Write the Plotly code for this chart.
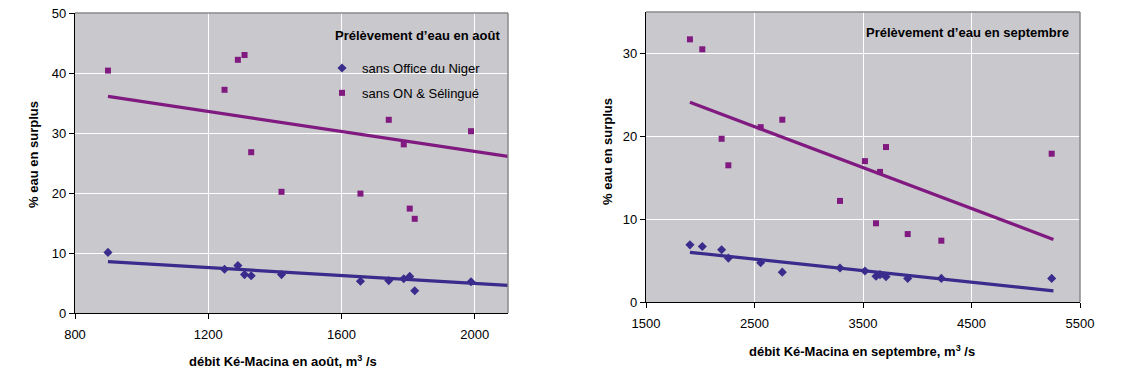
import plotly.graph_objects as go

# Débit Ké-Macina (m3/s) et % d'eau en surplus, août
aout_debit = [899, 1249, 1289, 1309, 1329, 1420, 1657, 1742, 1787, 1805, 1820, 1989]
aout_sans_on = [10.1, 7.3, 7.9, 6.4, 6.2, 6.4, 5.3, 5.4, 5.7, 6.1, 3.7, 5.2]
aout_sans_on_sel = [40.4, 37.2, 42.2, 43.0, 26.8, 20.2, 19.9, 32.2, 28.1, 17.4, 15.7, 30.3]

# Droites de tendance, août (début, fin)
aout_tend_debit = [899, 2100]
aout_tend_sans_on = [8.55, 4.6]
aout_tend_sans_on_sel = [36.1, 26.1]

# Septembre
sept_debit = [1905, 2019, 2197, 2259, 2557, 2756, 3288, 3518, 3620, 3657, 3712, 3912, 4222, 5239]
sept_sans_on = [6.9, 6.7, 6.3, 5.3, 4.75, 3.6, 4.1, 3.75, 3.1, 3.3, 3.05, 2.85, 2.85, 2.85]
sept_sans_on_sel = [31.7, 30.5, 19.7, 16.5, 21.1, 22.0, 12.2, 17.0, 9.5, 15.7, 18.7, 8.2, 7.4, 17.9]

# Droites de tendance, septembre (début, fin)
sept_tend_debit = [1905, 5255]
sept_tend_sans_on = [6.0, 1.35]
sept_tend_sans_on_sel = [24.1, 7.55]

aout_ticks = [800, 1200, 1600, 2000]
sept_ticks = [1500, 2500, 3500, 4500, 5500]

BLUE = "#3A2C8C"
PURPLE = "#801A80"
PLOT_BG = "#C9C8CD"
FONT = "Liberation Sans, Arial, sans-serif"

W, H = 1125, 375

fig = go.Figure()


def add_panel(xa, ya, debit, s_on, s_sel, t_debit, t_on, t_sel, legend):
    fig.add_trace(go.Scatter(x=debit, y=s_on, mode="markers", name="sans Office du Niger",
                             marker=dict(symbol="diamond", size=7, color=BLUE),
                             legendgroup="a", showlegend=legend, xaxis=xa, yaxis=ya))
    fig.add_trace(go.Scatter(x=debit, y=s_sel, mode="markers", name="sans ON & Sélingué",
                             marker=dict(symbol="square", size=6, color=PURPLE),
                             legendgroup="b", showlegend=legend, xaxis=xa, yaxis=ya))
    fig.add_trace(go.Scatter(x=t_debit, y=t_sel, mode="lines", line=dict(color=PURPLE, width=3.2),
                             showlegend=False, hoverinfo="skip", xaxis=xa, yaxis=ya))
    fig.add_trace(go.Scatter(x=t_debit, y=t_on, mode="lines", line=dict(color=BLUE, width=3.2),
                             showlegend=False, hoverinfo="skip", xaxis=xa, yaxis=ya))


add_panel("x", "y", aout_debit, aout_sans_on, aout_sans_on_sel,
          aout_tend_debit, aout_tend_sans_on, aout_tend_sans_on_sel, True)
add_panel("x2", "y2", sept_debit, sept_sans_on, sept_sans_on_sel,
          sept_tend_debit, sept_tend_sans_on, sept_tend_sans_on_sel, False)

# plot areas in pixels: (left, right, top, bottom)
A = (75, 508, 13, 313)
S = (646, 1080, 12, 302)


def xdom(p):
    return [p[0] / W, p[1] / W]


def ydom(p):
    return [1 - p[3] / H, 1 - p[2] / H]


axis_common = dict(showgrid=True, gridcolor="white", gridwidth=1.3, zeroline=False,
                   showline=True, linecolor="black", linewidth=1.3, automargin=False,
                   ticks="outside", ticklen=5, tickcolor="black", tickwidth=1,
                   tickfont=dict(family=FONT, size=13, color="black"))

fig.update_layout(
    template="none",
    width=W, height=H,
    margin=dict(l=0, r=0, t=0, b=0, autoexpand=False),
    paper_bgcolor="white",
    plot_bgcolor=PLOT_BG,
    font=dict(family=FONT, size=13, color="black"),
    xaxis=dict(domain=xdom(A), range=[800, 2100], tickvals=aout_ticks, anchor="y",
               ticklabelstandoff=4, **axis_common),
    yaxis=dict(domain=ydom(A), range=[0, 50], dtick=10, anchor="x", **axis_common),
    xaxis2=dict(domain=xdom(S), range=[1500, 5500], tickvals=sept_ticks, anchor="y2",
                ticklabelstandoff=4, **axis_common),
    yaxis2=dict(domain=ydom(S), range=[0, 35], tickvals=[0, 10, 20, 30], anchor="x2", **axis_common),
    legend=dict(x=322 / W, xanchor="left", y=1 - 53 / H, yanchor="top",
                bgcolor="rgba(0,0,0,0)", borderwidth=0, tracegroupgap=5,
                font=dict(family=FONT, size=13, color="black"),
                itemwidth=30, traceorder="grouped"),
    showlegend=True,
)

shapes = []
# legend box: plot-coloured patch hiding the gridlines behind the legend
shapes.append(dict(type="rect", xref="paper", yref="paper", layer="between",
                   x0=343 / W, x1=505 / W, y0=1 - 107 / H, y1=1 - 23 / H,
                   fillcolor=PLOT_BG, line=dict(width=0)))
# grey frame on the top and right edges of each plot area
for p in (A, S):
    l, r, t, b = p
    shapes.append(dict(type="line", xref="paper", yref="paper", x0=l / W, x1=r / W,
                       y0=1 - t / H, y1=1 - t / H, line=dict(color="#8A8A8A", width=1.5)))
    shapes.append(dict(type="line", xref="paper", yref="paper", x0=r / W, x1=r / W,
                       y0=1 - t / H, y1=1 - b / H, line=dict(color="#8A8A8A", width=1.5)))
fig.update_layout(shapes=shapes)

bold = dict(family=FONT, size=13, color="black")
annotations = [
    dict(text="<b>Prélèvement d’eau en août</b>", x=502 / W, y=1 - 35 / H, xref="paper", yref="paper",
         xanchor="right", yanchor="middle", showarrow=False, font=bold),
    dict(text="<b>Prélèvement d’eau en septembre</b>", x=1071 / W, y=1 - 32 / H, xref="paper", yref="paper",
         xanchor="right", yanchor="middle", showarrow=False, font=bold),
    dict(text="<b>% eau en surplus</b>", x=33 / W, y=1 - 155 / H, xref="paper", yref="paper",
         xanchor="center", yanchor="middle", textangle=-90, showarrow=False, font=bold),
    dict(text="<b>% eau en surplus</b>", x=607 / W, y=1 - 152 / H, xref="paper", yref="paper",
         xanchor="center", yanchor="middle", textangle=-90, showarrow=False, font=bold),
    dict(text="<b>débit Ké-Macina en août, m<sup>3</sup> /s</b>", x=283 / W, y=1 - 361 / H,
         xref="paper", yref="paper", xanchor="center", yanchor="middle", showarrow=False, font=bold),
    dict(text="<b>débit Ké-Macina en septembre, m<sup>3</sup> /s</b>", x=862 / W, y=1 - 351 / H,
         xref="paper", yref="paper", xanchor="center", yanchor="middle", showarrow=False, font=bold),
]
fig.update_layout(annotations=annotations)

fig.write_html("out.html")
